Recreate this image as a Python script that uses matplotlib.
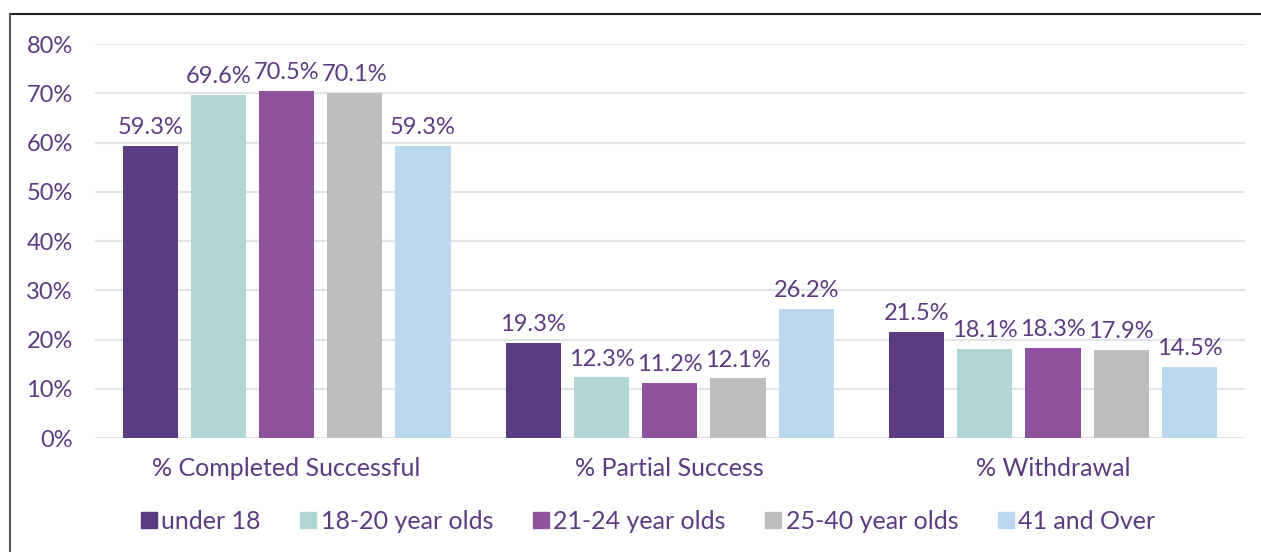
import numpy as np
import matplotlib.pyplot as plt
from matplotlib.lines import Line2D

plt.rcParams['font.family'] = ['Lato', 'DejaVu Sans']

categories = ['% Completed Successful', '% Partial Success', '% Withdrawal']
groups = ['under 18', '18-20 year olds', '21-24 year olds', '25-40 year olds', '41 and Over']
values = {
    'under 18': [59.3, 19.3, 21.5],
    '18-20 year olds': [69.6, 12.3, 18.1],
    '21-24 year olds': [70.5, 11.2, 18.3],
    '25-40 year olds': [70.1, 12.1, 17.9],
    '41 and Over': [59.3, 26.2, 14.5],
}
colors = ['#5B3C80', '#B2D6D4', '#8E529E', '#BEBEBE', '#BDD7EE']
text_color = '#5B3C80'

fig = plt.figure(figsize=(12.61, 5.52), dpi=100)
ax = fig.add_axes([0.0753, 0.2065, 0.9117, 0.7135])

x = np.arange(len(categories))
step = 0.178
width = 0.144
for i, g in enumerate(groups):
    pos = x + (i - 2) * step
    bars = ax.bar(pos, values[g], width, color=colors[i], label=g, zorder=3)
    for b, v in zip(bars, values[g]):
        ax.text(b.get_x() + b.get_width() / 2, v + 1.6, f'{v:.1f}%',
                ha='center', va='bottom', fontsize=17, color=text_color)

ax.set_xlim(-0.5, 2.5)
ax.set_ylim(0, 80)
ax.set_yticks(range(0, 81, 10))
ax.set_yticklabels([f'{t}%' for t in range(0, 81, 10)])
ax.set_xticks(x)
ax.set_xticklabels(categories)
ax.tick_params(axis='both', length=0, colors=text_color)
ax.tick_params(axis='y', pad=16, labelsize=17)
ax.tick_params(axis='x', pad=14, labelsize=18)
ax.yaxis.grid(True, color='#E1E5EA', linewidth=1.5, zorder=0)
for s in ax.spines.values():
    s.set_visible(False)

handles = [Line2D([0], [0], marker='s', linestyle='none', markersize=12,
                  markerfacecolor=c, markeredgecolor=c) for c in colors]
leg = fig.legend(handles, groups, loc='center', bbox_to_anchor=(0.512, 0.056),
                 ncol=5, frameon=False, fontsize=18, handletextpad=0.0,
                 handlelength=1.0, columnspacing=1.4)
for t in leg.get_texts():
    t.set_color(text_color)

# outer frame (top and left edges visible)
fig.add_artist(Line2D([10 / 1261, 1], [1 - 14 / 552, 1 - 14 / 552],
                      transform=fig.transFigure, color='#222222', linewidth=1.5))
fig.add_artist(Line2D([10 / 1261, 10 / 1261], [0, 1 - 14 / 552],
                      transform=fig.transFigure, color='#555555', linewidth=1.5))

fig.savefig('out.png', dpi=100)
